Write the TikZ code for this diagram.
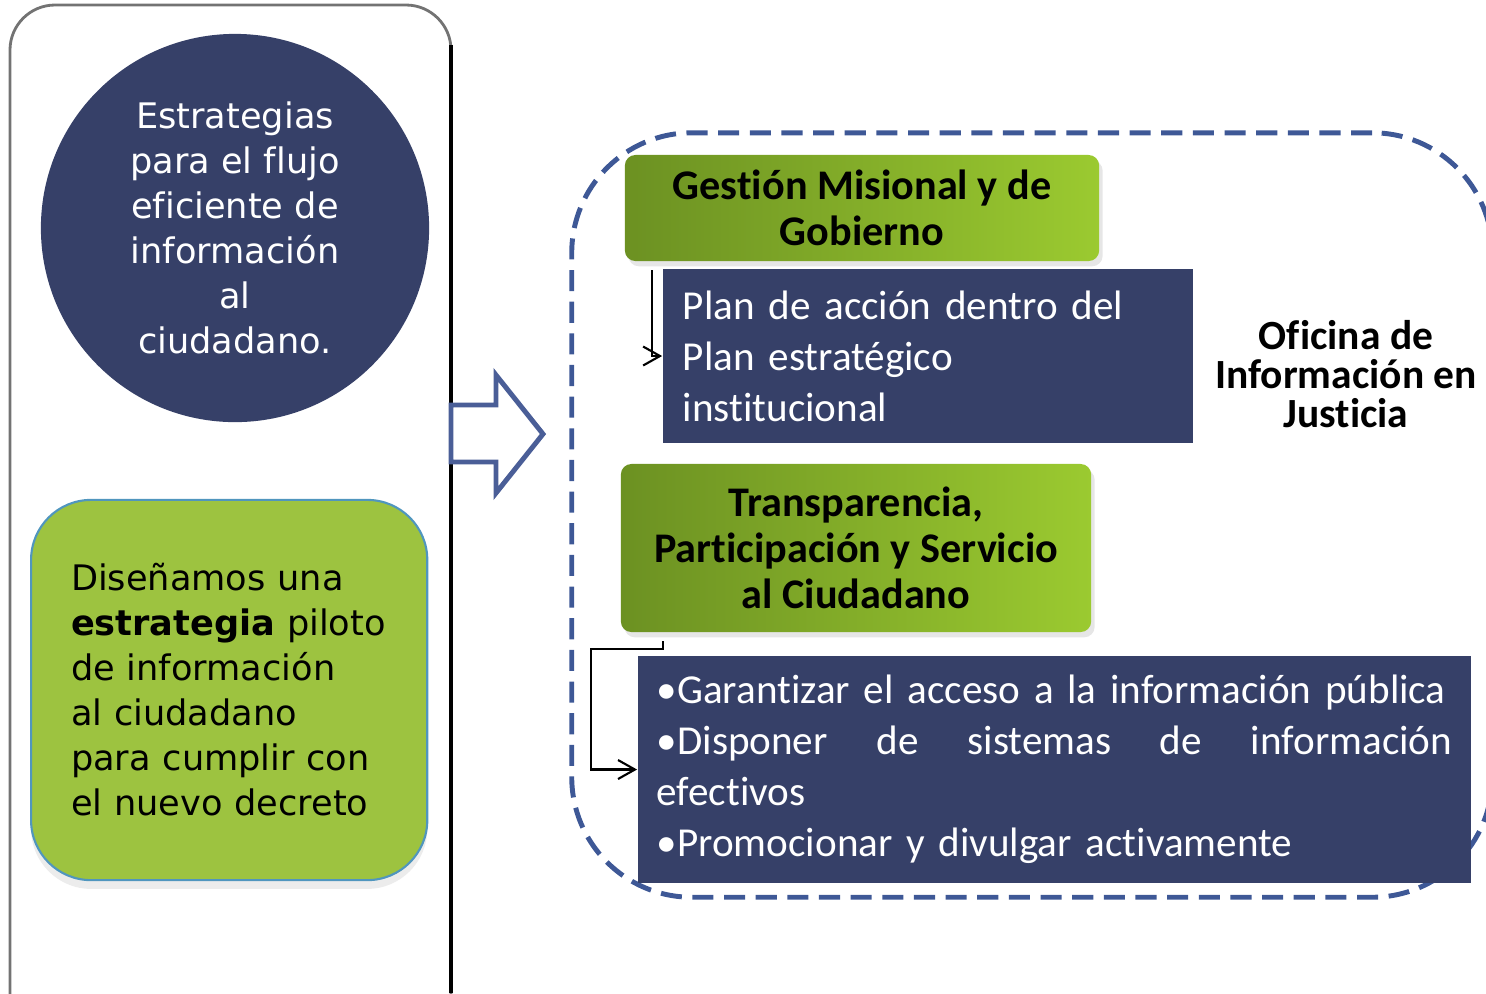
\documentclass[tikz,border=0pt]{standalone}
\usepackage{fontspec}
\setmainfont{Carlito}[Ligatures=NoCommon]
\newfontfamily\verd{DejaVu Sans}[Ligatures=NoCommon]
\usetikzlibrary{arrows.meta,shadows}
\definecolor{navy}{RGB}{54,64,104}
\definecolor{lima}{RGB}{157,195,64}
\definecolor{limaborde}{RGB}{80,150,190}
\definecolor{olivo}{RGB}{108,145,34}
\definecolor{verdeclaro}{RGB}{155,202,48}
\definecolor{azulflecha}{RGB}{74,94,151}
\definecolor{azulmarco}{RGB}{62,88,150}

\begin{document}
\begin{tikzpicture}[x=0.01cm, y=-0.01cm,
  circulo/.style={circle, fill=navy, text=white, minimum size=3.88cm, align=center, font=\verd\fontsize{10}{12.8}\selectfont},
  cajaverde/.style={rectangle, rounded corners=0.6cm, fill=lima, draw=limaborde, line width=0.6pt, minimum width=3.96cm, minimum height=3.8cm, text width=3.16cm, inner xsep=0.4cm, align=left, font=\verd\fontsize{10}{12.8}\selectfont, drop shadow={opacity=0.15, shadow xshift=0pt, shadow yshift=-2.5pt}},
  titulo/.style={rectangle, rounded corners=3pt, left color=olivo, right color=verdeclaro, align=center, font=\bfseries\fontsize{12}{13}\selectfont, drop shadow={opacity=0.2, shadow xshift=1pt, shadow yshift=-1.5pt}},
  cajaazul/.style={rectangle, fill=navy, text=white, align=left, inner xsep=0.2cm, font=\fontsize{11.7}{14.5}\selectfont},
  marco/.style={rectangle, rounded corners=1.2cm, draw=azulmarco, line width=1.4pt, dash pattern=on 6pt off 3pt},
  conector/.style={draw=black, line width=0.6pt, -{Straight Barb[length=4.8pt, width=5.4pt]}}]
\useasboundingbox (0,0) rectangle (1486,993);
\clip (0,0) rectangle (1486,993);
\draw[draw=black!55, line width=0.8pt, rounded corners=0.45cm] (10,5) rectangle (451,1040); % left panel
\draw[black, line width=0.9pt] (451,45) -- (451,993); % panel edge
\node[circulo] (estrategias) at (235,228) {Estrategias\\para el flujo\\eficiente de\\información\\al\\ciudadano.};
\node[cajaverde, anchor=west] (disenamos) at (30,690) {Diseñamos una\\{\bfseries estrategia} piloto\\de información\\al ciudadano\\para cumplir con\\el nuevo decreto};
\draw[azulflecha, line width=1.4pt, fill=white] (451,405) -- (496,405) -- (496,375) -- (543,434) -- (496,493) -- (496,462) -- (451,462) -- cycle; % big arrow
\node[marco, minimum width=9.2cm, minimum height=7.64cm] (oficinamarco) at (1032,515) {};
\node[titulo, minimum width=4.74cm, minimum height=1.06cm] (gestion) at (862,208) {Gestión Misional y de\\Gobierno};
\node[cajaazul, minimum width=5.3cm, minimum height=1.74cm, text width=4.9cm] (plan) at (928,356) {Plan de acción dentro del\\Plan estratégico\\institucional};
\node[titulo, minimum width=4.7cm, minimum height=1.68cm] (transparencia) at (856,548) {Transparencia,\\Participación y Servicio\\al Ciudadano};
\node[cajaazul, minimum width=8.33cm, minimum height=2.27cm, text width=7.95cm, inner xsep=0.19cm] (garantizar) at (1054.5,769.5) {\mbox{•Garantizar el acceso a la información pública}\\\makebox[7.95cm][l]{•Disponer\hfill de\hfill sistemas\hfill de\hfill información}\\efectivos\\\mbox{•Promocionar y divulgar activamente}};
\node[align=center, font=\bfseries\fontsize{11.8}{11}\selectfont] (oficina) at (1346,374) {Oficina de\\Información en\\Justicia};
\coordinate (c1) at (652,270);
\coordinate (c2) at (663,641);
\coordinate (c3) at (591,649);
\draw[conector] (c1) |- (plan.west); % to plan
\draw[conector] (c2) |- (c3) |- (garantizar.west); % to list
\end{tikzpicture}
\end{document}
